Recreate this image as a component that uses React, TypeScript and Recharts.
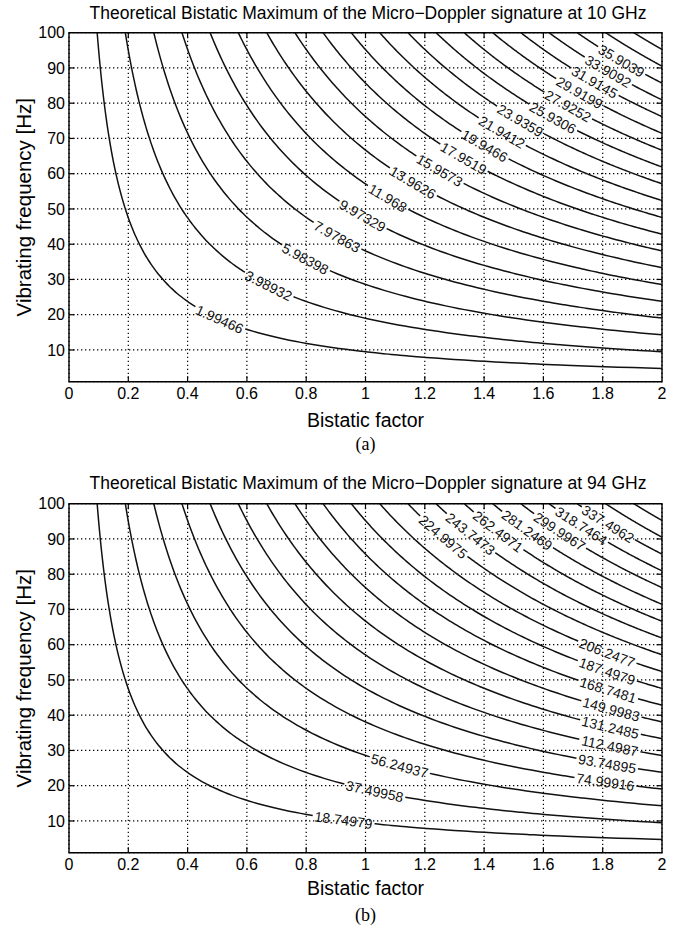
import React from 'react';
import { LineChart, Line, XAxis, YAxis, CartesianGrid, ReferenceDot, ReferenceLine, ReferenceArea } from 'recharts';

// axis ticks
const betaTicks = [0, 0.2, 0.4, 0.6, 0.8, 1, 1.2, 1.4, 1.6, 1.8, 2];
const freqTicks = [10, 20, 30, 40, 50, 60, 70, 80, 90, 100];

// bistatic factor * vibrating frequency along every contour (same in both panels)
const contourProducts = [9.5, 19, 28.6, 38.1, 47.6, 57.1, 66.7, 76.2, 85.7, 95.2, 104.8, 114.3, 123.8, 133.3, 142.9, 152.4, 161.9, 171.4, 181, 190.5];

// contour labels and where they sit (bistatic factor)
const levels10GHz = ['1.99466', '3.98932', '5.98398', '7.97863', '9.97329', '11.968', '13.9626', '15.9573', '17.9519', '19.9466', '21.9412', '23.9359', '25.9306', '27.9252', '29.9199', '31.9145', '33.9092', '35.9039'];
const labelPos10GHz = [0.508, 0.673, 0.797, 0.904, 0.99, 1.075, 1.16, 1.25, 1.331, 1.402, 1.46, 1.522, 1.632, 1.683, 1.722, 1.773, 1.818, 1.863];

const levels94GHz = ['18.74979', '37.49958', '56.24937', '74.99916', '93.74895', '112.4987', '131.2485', '149.9983', '168.7481', '187.4979', '206.2477', '224.9975', '243.7473', '262.4971', '281.2469', '299.9967', '318.7464', '337.4962'];
const labelPos94GHz = [0.926, 1.031, 1.115, 1.809, 1.815, 1.824, 1.826, 1.829, 1.818, 1.815, 1.815, 1.262, 1.354, 1.447, 1.545, 1.655, 1.728, 1.818];

const W = 683;
const PLOT_LEFT = 69;
const PLOT_RIGHT = 662;
const PLOT_TOP = 32.7;
const PLOT_H = 349;
const X_AXIS_H = 30;
const SX = (PLOT_RIGHT - PLOT_LEFT) / 2; // px per bistatic unit
const SY = PLOT_H / 99; // px per Hz
const SANS = '"Liberation Sans", Arial, Helvetica, sans-serif';
const SERIF = '"Liberation Serif", "Times New Roman", serif';
const LABEL_FS = 14;
const INK = '#111';

const textWidth = (s: string) => s.split('').reduce((w, ch) => w + (ch === '.' ? 0.278 : 0.556), 0) * LABEL_FS;

type Pt = { b: number; f: number | null };

function buildCurve(c: number, label?: { beta: number; text: string }) {
  const b0 = c / 100;
  const pts: Pt[] = [];
  const N = 120;
  for (let k = 0; k <= N; k++) {
    const b = b0 * Math.pow(2 / b0, k / N);
    pts.push({ b, f: c / b });
  }
  if (!label) return { data: pts };

  const bL = label.beta;
  const px = (b: number) => [b * SX, (c / b) * SY];
  const [x0, y0] = px(bL);
  const dist = (b: number) => {
    const [x, y] = px(b);
    return Math.hypot(x - x0, y - y0);
  };
  const half = textWidth(label.text) / 2 + 2;

  let lo = b0, hi = bL;
  for (let k = 0; k < 50; k++) {
    const m = (lo + hi) / 2;
    if (dist(m) > half) lo = m; else hi = m;
  }
  const ba = lo;
  let bb = 2;
  if (dist(2) > half) {
    lo = bL; hi = 2;
    for (let k = 0; k < 50; k++) {
      const m = (lo + hi) / 2;
      if (dist(m) > half) hi = m; else lo = m;
    }
    bb = hi;
  }
  const data: Pt[] = [
    ...pts.filter((p) => p.b < ba),
    { b: ba, f: c / ba },
    { b: bL, f: null },
    ...(bb < 2 ? [{ b: bb, f: c / bb }, ...pts.filter((p) => p.b > bb)] : []),
  ];
  const angle = (Math.atan2((c / ba - c / bb) * SY, (bb - ba) * SX) * 180) / Math.PI;
  return { data, label: { b: bL, f: c / bL, text: label.text, angle } };
}

interface PanelProps {
  top: number;
  height: number;
  title: string;
  titleY: number;
  levels: string[];
  labelPos: number[];
  xLabelY: number;
  caption: string;
  captionY: number;
}

const Panel = ({ top, height, title, titleY, levels, labelPos, xLabelY, caption, captionY }: PanelProps) => {
  const curves = contourProducts.map((c, i) =>
    buildCurve(c, i < levels.length ? { beta: labelPos[i], text: levels[i] } : undefined)
  );
  const tx = 5.5 / SX;
  const ty = 5.5 / SY;
  const midY = PLOT_TOP + PLOT_H / 2;

  return (
    <div style={{ position: 'absolute', left: 0, top, width: W, height }}>
      <LineChart
        width={W}
        height={height}
        margin={{ top: PLOT_TOP, right: W - PLOT_RIGHT, left: 0, bottom: height - PLOT_TOP - PLOT_H - X_AXIS_H }}
      >
        <CartesianGrid stroke="#000" strokeDasharray="1.3 2.7" strokeWidth={1.2} />
        <XAxis
          type="number"
          dataKey="b"
          domain={[0, 2]}
          ticks={betaTicks}
          interval={0}
          allowDataOverflow
          axisLine={false}
          tickLine={false}
          tickSize={0}
          tickMargin={6}
          height={X_AXIS_H}
          tick={{ fill: '#000', fontSize: 16, fontFamily: SANS }}
        />
        <YAxis
          type="number"
          domain={[1, 100]}
          ticks={freqTicks}
          interval={0}
          allowDataOverflow
          axisLine={false}
          tickLine={false}
          tickSize={0}
          tickMargin={4}
          width={PLOT_LEFT}
          tick={{ fill: '#000', fontSize: 16, fontFamily: SANS }}
        />
        {curves.map((cv, i) => (
          <Line
            key={'c' + i}
            data={cv.data}
            dataKey="f"
            type="monotone"
            stroke={INK}
            strokeWidth={1.5}
            dot={false}
            activeDot={false}
            connectNulls={false}
            isAnimationActive={false}
          />
        ))}
        {betaTicks.slice(1, -1).map((t) => (
          <ReferenceLine key={'xb' + t} segment={[{ x: t, y: 1 }, { x: t, y: 1 + ty }]} stroke="#000" strokeWidth={1.2} />
        ))}
        {betaTicks.slice(1, -1).map((t) => (
          <ReferenceLine key={'xt' + t} segment={[{ x: t, y: 100 }, { x: t, y: 100 - ty }]} stroke="#000" strokeWidth={1.2} />
        ))}
        {freqTicks.slice(0, -1).map((t) => (
          <ReferenceLine key={'yl' + t} segment={[{ x: 0, y: t }, { x: tx, y: t }]} stroke="#000" strokeWidth={1.2} />
        ))}
        {freqTicks.slice(0, -1).map((t) => (
          <ReferenceLine key={'yr' + t} segment={[{ x: 2, y: t }, { x: 2 - tx, y: t }]} stroke="#000" strokeWidth={1.2} />
        ))}
        <ReferenceArea x1={0} x2={2} y1={1} y2={100} fill="none" fillOpacity={0} stroke="#000" strokeWidth={1.4} />
        {curves.map((cv, i) =>
          cv.label ? (
            <ReferenceDot
              key={'l' + i}
              x={cv.label.b}
              y={cv.label.f}
              r={0}
              shape={(p: any) => (
                <text
                  x={p.cx}
                  y={p.cy}
                  dy="0.36em"
                  textAnchor="middle"
                  fontSize={LABEL_FS}
                  fontFamily={SANS}
                  fill={INK}
                  transform={`rotate(${cv.label!.angle} ${p.cx} ${p.cy})`}
                >
                  {cv.label!.text}
                </text>
              )}
            />
          ) : null
        )}
      </LineChart>
      <svg width={W} height={height} style={{ position: 'absolute', left: 0, top: 0, pointerEvents: 'none' }}>
        <text x={368} y={titleY} textAnchor="middle" fontSize={17.5} fontFamily={SANS} fill="#000">
          {title}
        </text>
        <text x={(PLOT_LEFT + PLOT_RIGHT) / 2} y={xLabelY} textAnchor="middle" fontSize={19.5} fontFamily={SANS} fill="#000">
          Bistatic factor
        </text>
        <text
          transform={`translate(30.5 ${midY}) rotate(-90)`}
          textAnchor="middle"
          fontSize={20.5}
          fontFamily={SANS}
          fill="#000"
        >
          Vibrating frequency [Hz]
        </text>
        <text x={(PLOT_LEFT + PLOT_RIGHT) / 2} y={captionY} textAnchor="middle" fontSize={18} fontFamily={SERIF} fill="#000">
          {caption}
        </text>
      </svg>
    </div>
  );
};

export default function App() {
  return (
    <div style={{ position: 'absolute', left: 0, top: 0, width: W, height: 928, background: '#fff' }}>
      <Panel
        top={0}
        height={470}
        title="Theoretical Bistatic Maximum of the Micro−Doppler signature at 10 GHz"
        titleY={19.3}
        levels={levels10GHz}
        labelPos={labelPos10GHz}
        xLabelY={426.7}
        caption="(a)"
        captionY={449.5}
      />
      <Panel
        top={470.5}
        height={457.5}
        title="Theoretical Bistatic Maximum of the Micro−Doppler signature at 94 GHz"
        titleY={18.3}
        levels={levels94GHz}
        labelPos={labelPos94GHz}
        xLabelY={423.5}
        caption="(b)"
        captionY={449.5}
      />
    </div>
  );
}
